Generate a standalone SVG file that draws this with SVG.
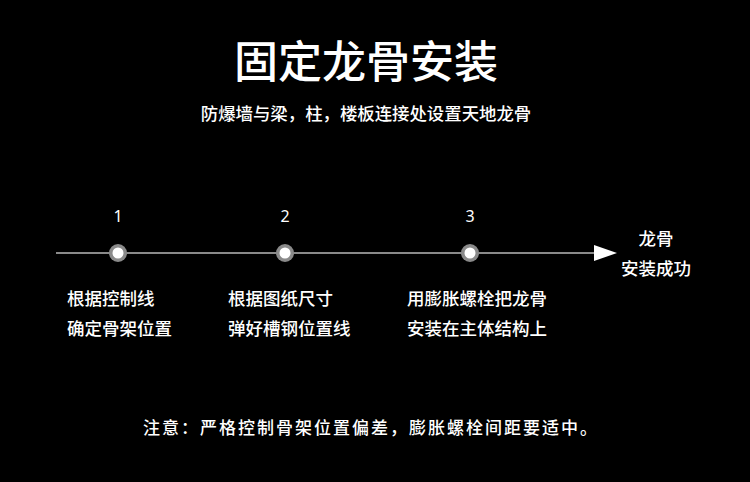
<svg xmlns="http://www.w3.org/2000/svg" width="750" height="482" viewBox="0 0 750 482">
<style>
text{fill:#fff;font-family:"Noto Sans CJK SC","Noto Sans",sans-serif}
.t{font-size:44px;font-weight:500;text-anchor:middle}
.s{font-size:17.4px;font-weight:500;text-anchor:middle}
.n{font-size:16px;text-anchor:middle;font-family:"Noto Sans","DejaVu Sans",sans-serif}
.d{font-size:17.5px;font-weight:500}
.r{font-size:17.5px;font-weight:500;text-anchor:middle}
.f{font-size:17px;font-weight:500;text-anchor:middle;letter-spacing:2px}
.o{fill:#8a8a8a}
.i{fill:#fff}
</style>
<rect width="750" height="482" fill="#000"/>
<text class="t" x="366" y="78">固定龙骨安装</text>
<text class="s" x="366" y="120">防爆墙与梁，柱，楼板连接处设置天地龙骨</text>
<g id="connectors">
<line x1="56" y1="253" x2="596" y2="253" stroke="#8a8a8a" stroke-width="2"/>
<polygon points="594,245 617,253 594,261" fill="#fff"/>
</g>
<g id="step1">
<text class="n" x="118" y="222">1</text>
<circle class="o" cx="118" cy="253" r="9"/><circle class="i" cx="118" cy="253" r="5.5"/>
<text class="d" x="67" y="305">根据控制线</text>
<text class="d" x="67" y="335">确定骨架位置</text>
</g>
<g id="step2">
<text class="n" x="285" y="222">2</text>
<circle class="o" cx="285" cy="253" r="9"/><circle class="i" cx="285" cy="253" r="5.5"/>
<text class="d" x="228" y="305">根据图纸尺寸</text>
<text class="d" x="228" y="335">弹好槽钢位置线</text>
</g>
<g id="step3">
<text class="n" x="470" y="222">3</text>
<circle class="o" cx="470" cy="253" r="9"/><circle class="i" cx="470" cy="253" r="5.5"/>
<text class="d" x="407" y="305">用膨胀螺栓把龙骨</text>
<text class="d" x="407" y="335">安装在主体结构上</text>
</g>
<g id="result">
<text class="r" x="656" y="245">龙骨</text>
<text class="r" x="656" y="275">安装成功</text>
</g>
<text class="f" x="371" y="434">注意：严格控制骨架位置偏差，膨胀螺栓间距要适中。</text>
</svg>
